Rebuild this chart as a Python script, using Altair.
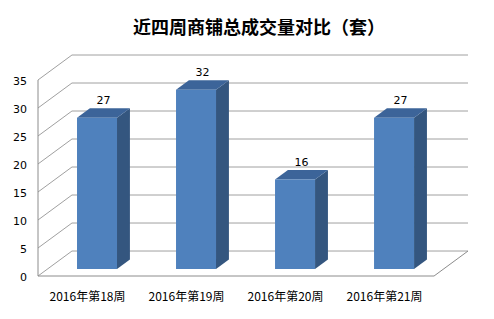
import altair as alt
import pandas as pd

categories = ["2016年第18周", "2016年第19周", "2016年第20周", "2016年第21周"]
values = [27, 32, 16, 27]
ticks = [0, 5, 10, 15, 20, 25, 30, 35]
title_text = "近四周商铺总成交量对比（套）"

# oblique 3D geometry (style constants)
DX = 0.343      # depth shift along x (category units)
DY = 4.46       # depth shift along y (value units)
D0, D1 = 0.28, 0.66   # bar front / back depth fraction
HW = 0.202      # half bar width
N = len(categories)
XMIN, XMAX = -0.5, N - 0.5
YMAX = max(ticks)

xs = alt.Scale(domain=[XMIN, XMAX + DX], nice=False, zero=False)
ys = alt.Scale(domain=[0, YMAX + DY], nice=False, zero=False)

# back wall gridlines with diagonals
grid_rows = []
for t in ticks:
    grid_rows.append({"t": t, "o": 0, "x": XMIN, "y": t})
    grid_rows.append({"t": t, "o": 1, "x": XMIN + DX, "y": t + DY})
    grid_rows.append({"t": t, "o": 2, "x": XMAX + DX, "y": t + DY})
grid_df = pd.DataFrame(grid_rows)

grid = alt.Chart(grid_df).mark_line(stroke="#a0a0a0", strokeWidth=1).encode(
    x=alt.X("x:Q", scale=xs, axis=None),
    y=alt.Y("y:Q", scale=ys, axis=None),
    detail="t:N",
    order="o:Q",
)

edge_df = pd.DataFrame([
    {"e": "left", "o": 0, "x": XMIN, "y": YMAX},
    {"e": "left", "o": 1, "x": XMIN, "y": 0},
    {"e": "left", "o": 2, "x": XMAX, "y": 0},
    {"e": "left", "o": 3, "x": XMAX + DX, "y": DY},
])
edges = alt.Chart(edge_df).mark_line(stroke="#8c8c8c", strokeWidth=1).encode(
    x=alt.X("x:Q", scale=xs, axis=None),
    y=alt.Y("y:Q", scale=ys, axis=None),
    detail="e:N",
    order="o:Q",
)

# bars
front_rows, side_rows, top_rows, lab_rows = [], [], [], []
for i, (c, v) in enumerate(zip(categories, values)):
    front_rows.append({"c": c, "x": i + D0 * DX - HW, "x2": i + D0 * DX + HW,
                       "y": D0 * DY, "y2": v + D0 * DY})
    side_rows.append({"c": c, "x": i + D0 * DX + HW, "y": v + D0 * DY, "y2": D0 * DY})
    side_rows.append({"c": c, "x": i + D1 * DX + HW, "y": v + D1 * DY, "y2": D1 * DY})
    top_rows.append({"c": c, "y": v + D0 * DY, "x": i + D0 * DX - HW, "x2": i + D0 * DX + HW})
    top_rows.append({"c": c, "y": v + D1 * DY, "x": i + D1 * DX - HW, "x2": i + D1 * DX + HW})
    lab_rows.append({"c": c, "v": v, "i": i, "lx": i + (D0 + D1) / 2 * DX,
                     "ly": v + (D0 + D1) / 2 * DY})

front = alt.Chart(pd.DataFrame(front_rows)).mark_rect(color="#4f81bd").encode(
    x=alt.X("x:Q", scale=xs, axis=None), x2="x2:Q",
    y=alt.Y("y:Q", scale=ys, axis=None), y2="y2:Q",
)
side = alt.Chart(pd.DataFrame(side_rows)).mark_area(color="#34567f", orient="vertical").encode(
    x=alt.X("x:Q", scale=xs, axis=None),
    y=alt.Y("y:Q", scale=ys, axis=None), y2="y2:Q",
    detail="c:N",
)
top = alt.Chart(pd.DataFrame(top_rows)).mark_area(color="#3c6499", orient="horizontal").encode(
    y=alt.Y("y:Q", scale=ys, axis=None),
    x=alt.X("x:Q", scale=xs, axis=None), x2="x2:Q",
    detail="c:N",
)

lab_df = pd.DataFrame(lab_rows)
vlabels = alt.Chart(lab_df).mark_text(font="DejaVu Sans", fontSize=11, color="#000000",
                                      baseline="middle", dy=-12).encode(
    x=alt.X("lx:Q", scale=xs, axis=None),
    y=alt.Y("ly:Q", scale=ys, axis=None),
    text="v:Q",
)
xlabels = alt.Chart(lab_df).mark_text(font="Noto Sans CJK SC", fontSize=12, color="#000000",
                                      baseline="middle", dy=21).encode(
    x=alt.X("i:Q", scale=xs, axis=None),
    y=alt.value(221),
    text="c:N",
)
ylabels = alt.Chart(pd.DataFrame({"t": ticks, "x": [XMIN] * len(ticks)})).mark_text(
    font="DejaVu Sans", fontSize=11, color="#000000", align="right", baseline="middle",
    dx=-11, dy=2).encode(
    x=alt.X("x:Q", scale=xs, axis=None),
    y=alt.Y("t:Q", scale=ys, axis=None),
    text="t:Q",
)

chart = alt.layer(grid, edges, side, top, front, vlabels, xlabels, ylabels).properties(
    width=430, height=221,
    autosize=alt.AutoSizeParams(type="none"),
    padding={"left": 38, "top": 55, "right": 26, "bottom": 43},
    background="white",
    title=alt.TitleParams(title_text, font="Noto Sans CJK SC", fontSize=18, fontWeight="bold",
                          color="#000000", anchor="middle", dx=6, offset=15),
).configure_view(stroke=None)

chart.save("out.html", embed_options={"renderer": "svg", "actions": False})
